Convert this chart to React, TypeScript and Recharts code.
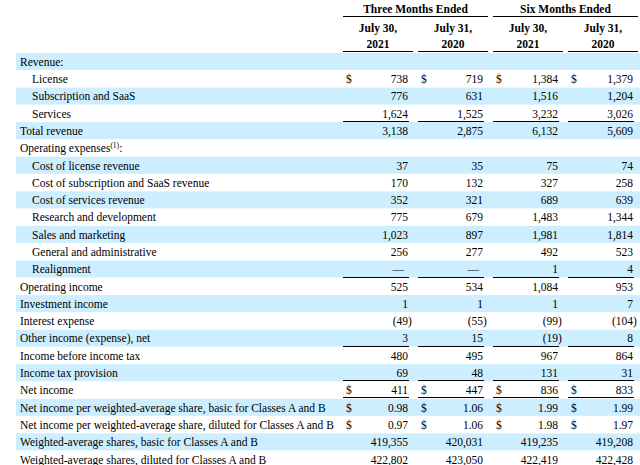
import { BarChart, Bar, XAxis, YAxis, Customized } from "recharts";

const labels = [
  "Revenue:",
  "License",
  "Subscription and SaaS",
  "Services",
  "Total revenue",
  "Operating expenses",
  "Cost of license revenue",
  "Cost of subscription and SaaS revenue",
  "Cost of services revenue",
  "Research and development",
  "Sales and marketing",
  "General and administrative",
  "Realignment",
  "Operating income",
  "Investment income",
  "Interest expense",
  "Other income (expense), net",
  "Income before income tax",
  "Income tax provision",
  "Net income",
  "Net income per weighted-average share, basic for Classes A and B",
  "Net income per weighted-average share, diluted for Classes A and B",
  "Weighted-average shares, basic for Classes A and B",
  "Weighted-average shares, diluted for Classes A and B",
];

const indentedRows = [1, 2, 3, 6, 7, 8, 9, 10, 11, 12];
const dollarRows = [1, 19, 20, 21];
const perShareRows = [20, 21];
const singleRuleRows = [3, 12, 16, 18];
const doubleRuleRows = [19];

const q2021 = [null, 738, 776, 1624, 3138, null, 37, 170, 352, 775, 1023, 256, 0, 525, 1, -49, 3, 480, 69, 411, 0.98, 0.97, 419355, 422802];
const q2020 = [null, 719, 631, 1525, 2875, null, 35, 132, 321, 679, 897, 277, 0, 534, 1, -55, 15, 495, 48, 447, 1.06, 1.06, 420031, 423050];
const h2021 = [null, 1384, 1516, 3232, 6132, null, 75, 327, 689, 1483, 1981, 492, 1, 1084, 1, -99, -19, 967, 131, 836, 1.99, 1.98, 419235, 422419];
const h2020 = [null, 1379, 1204, 3026, 5609, null, 74, 258, 639, 1344, 1814, 523, 4, 953, 7, -104, 8, 864, 31, 833, 1.99, 1.97, 419208, 422428];

const groups = ["Three Months Ended", "Six Months Ended"];
const colDates = ["July 30,", "July 31,", "July 30,", "July 31,"];
const colYears = ["2021", "2020", "2021", "2020"];

const columns = [q2021, q2020, h2021, h2020];

const data = labels.map((label, i) => ({
  label,
  band: 1,
  values: columns.map((c) => c[i]),
}));

const FONT = "'Liberation Serif', 'Times New Roman', serif";
const FS = 11.5;
const BLUE = "#cceeff";
const COL_X = [343, 418, 493, 568];
const COL_W = 65;

function fmt(v: number | null, row: number) {
  if (v === null) return "";
  if (v === 0) return "\u2014";
  const digits = perShareRows.includes(row) ? 2 : 0;
  const s = Math.abs(v).toLocaleString("en-US", {
    minimumFractionDigits: digits,
    maximumFractionDigits: digits,
  });
  return v < 0 ? `(${s})` : s;
}

function RowShape(props: any) {
  const { x, y, width, height, index, payload } = props;
  const base = y + 12.8;
  const bottom = Math.round(y + height);
  return (
    <g>
      {index % 2 === 0 && <rect x={x} y={y} width={width + 1} height={height} fill={BLUE} />}
      <text x={indentedRows.includes(index) ? 32 : 20} y={base} fontFamily={FONT} fontSize={FS} fill="#000">
        {payload.label}
        {index === 5 && (
          <>
            <tspan fontSize={7.5} dy={-4}>(1)</tspan>
            <tspan dy={4}>:</tspan>
          </>
        )}
      </text>
      {payload.values.map((v: number | null, c: number) => {
        if (v === null) return null;
        const left = COL_X[c];
        const right = left + COL_W;
        const txt = fmt(v, index);
        const ax = v < 0 ? right + 3.8 : v === 0 ? right - 4 : right;
        return (
          <g key={c}>
            {dollarRows.includes(index) && (
              <text x={left + 3} y={base} fontFamily={FONT} fontSize={FS} fill="#000">$</text>
            )}
            <text x={ax} y={base} textAnchor="end" fontFamily={FONT} fontSize={FS} fill="#000">
              {txt}
            </text>
            {singleRuleRows.includes(index) && (
              <line x1={left} x2={right + 1} y1={bottom - 0.5} y2={bottom - 0.5} stroke="#000" strokeWidth={1} />
            )}
            {doubleRuleRows.includes(index) && (
              <>
                <line x1={left} x2={right + 1} y1={bottom - 1.5} y2={bottom - 1.5} stroke="#000" strokeWidth={1} />
                <line x1={left} x2={right + 1} y1={bottom + 1} y2={bottom + 1} stroke="#000" strokeWidth={1} />
              </>
            )}
          </g>
        );
      })}
    </g>
  );
}

function Header() {
  const bold = { fontFamily: FONT, fontSize: FS, fontWeight: 700, fill: "#000" };
  return (
    <g>
      {groups.map((g, i) => {
        const left = COL_X[i * 2];
        const right = COL_X[i * 2 + 1] + 70;
        return (
          <g key={g}>
            <text x={(left + right) / 2} y={13} textAnchor="middle" {...bold}>{g}</text>
            <line x1={left} x2={right} y1={16.5} y2={16.5} stroke="#000" />
          </g>
        );
      })}
      {colDates.map((d, i) => {
        const left = COL_X[i];
        return (
          <g key={i}>
            <text x={left + 35} y={31.5} textAnchor="middle" {...bold}>{d}</text>
            <text x={left + 35} y={48} textAnchor="middle" {...bold}>{colYears[i]}</text>
            <line x1={left} x2={left + 70} y1={51.5} y2={51.5} stroke="#000" />
          </g>
        );
      })}
    </g>
  );
}

export default function App() {
  return (
    <div style={{ width: 640, height: 465, overflow: "hidden", background: "#fff" }}>
      <style>{`body{margin:0}`}</style>
      <BarChart
        width={640}
        height={468}
        data={data}
        layout="vertical"
        margin={{ top: 53, right: 0, bottom: 0, left: 16 }}
        barCategoryGap={0}
      >
        <XAxis type="number" domain={[0, 1]} hide />
        <YAxis type="category" dataKey="label" hide />
        <Bar dataKey="band" isAnimationActive={false} shape={RowShape} />
        <Customized component={Header} />
      </BarChart>
    </div>
  );
}
